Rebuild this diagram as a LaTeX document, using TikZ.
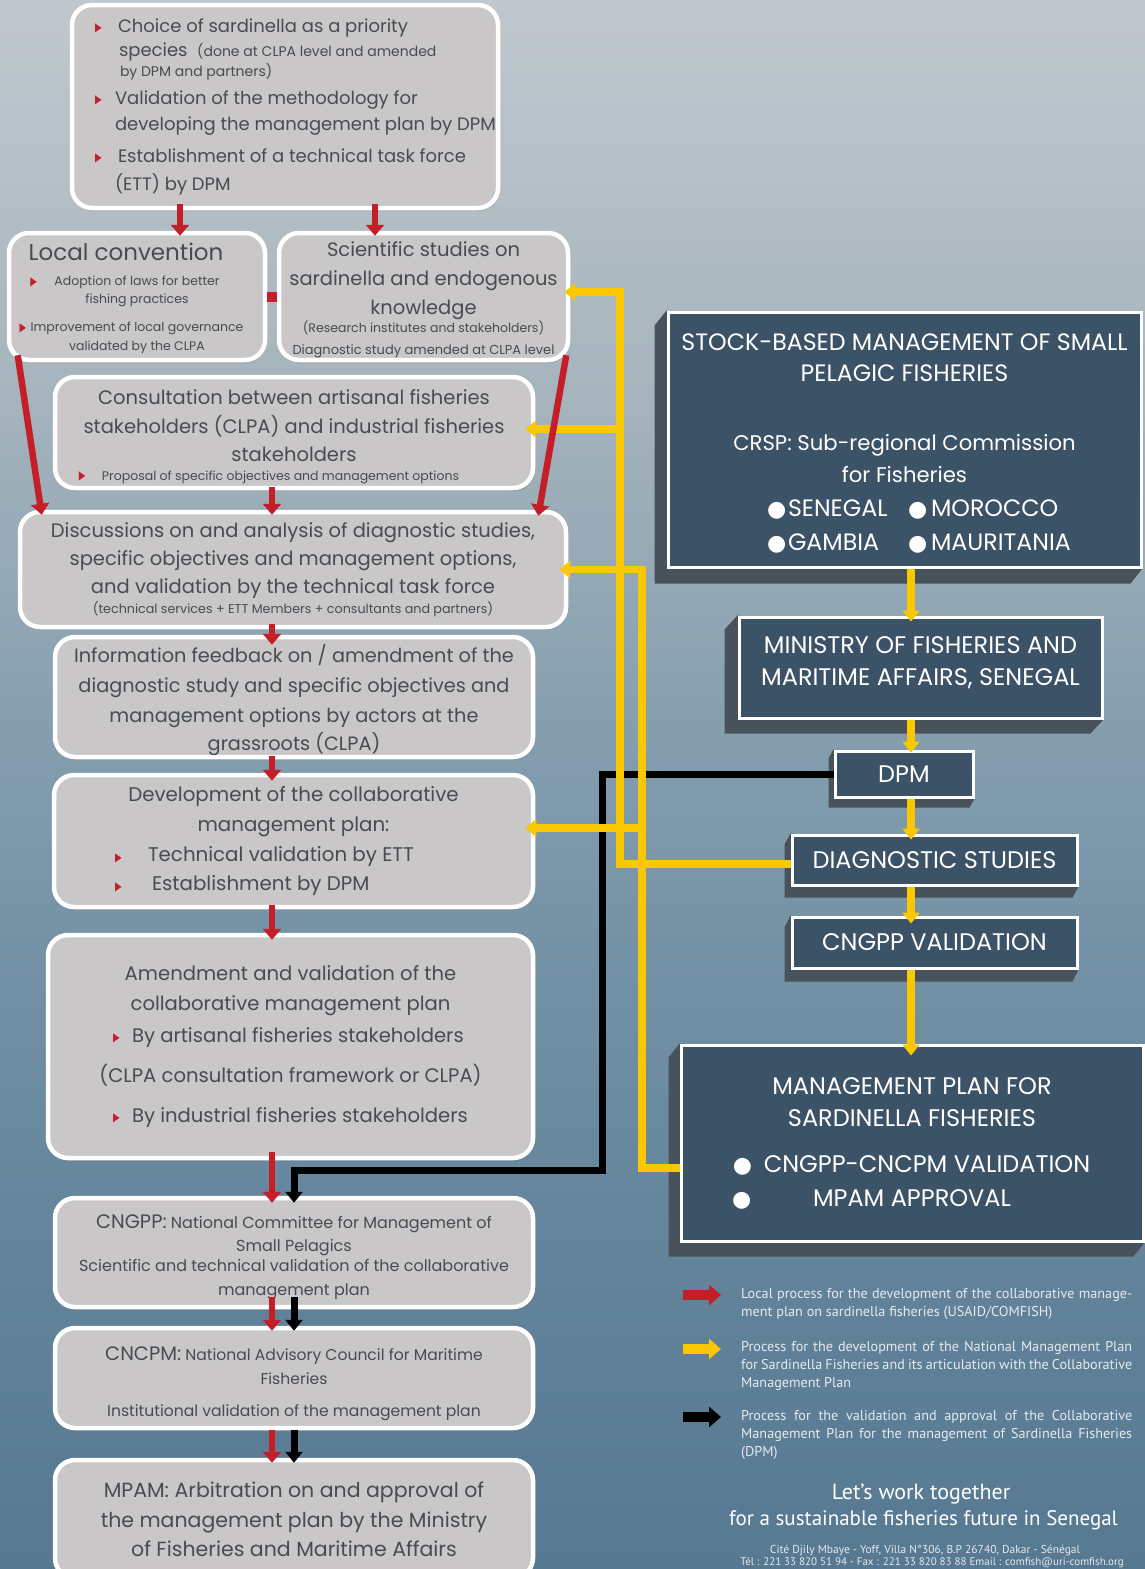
\documentclass[tikz,border=0pt]{standalone}
\usepackage{fontspec}
\setmainfont{Poppins}
\newfontfamily\legfont{PT Sans}
\newfontfamily\djv{DejaVu Sans}
\usetikzlibrary{arrows.meta,calc,shadows}
\definecolor{boxgray}{RGB}{201,199,200}
\definecolor{txt}{RGB}{70,76,82}
\definecolor{bred}{RGB}{196,30,40}
\definecolor{yel}{RGB}{250,200,0}
\definecolor{navy}{RGB}{60,82,102}
\definecolor{shade3d}{RGB}{72,82,90}
\definecolor{legtxt}{RGB}{230,234,238}
\definecolor{bgA}{RGB}{192,200,205}
\definecolor{bgB}{RGB}{166,180,189}
\definecolor{bgC}{RGB}{128,155,172}
\definecolor{bgD}{RGB}{102,135,157}
\definecolor{bgE}{RGB}{86,120,145}
\newcommand\fsz[2]{\fontsize{#1}{#2}\selectfont}
\newcommand\bul{\makebox[0pt][l]{\raisebox{0.5pt}{\djv\fsz{12}{12}\color{bred}\scalebox{0.72}[1]{▶}}}}
\newcommand\wbul{\makebox[0pt][l]{\raisebox{0pt}{\djv\fsz{22}{22}\color{white}●}}}
\newcommand\dsh[3]{\fill[shade3d] (#1.north west) -- ++(-#2,#3) -- ($(#1.south west)+(-#2,#3)$) -- ($(#1.south east)+(-#2,#3)$) -- (#1.south east) -- cycle;}
\pgfdeclarelayer{bglayer}
\pgfsetlayers{bglayer,main}
\pgfdeclareverticalshading{bgsh}{100bp}{color(0bp)=(bgE); color(25bp)=(bgE); color(37.5bp)=(bgD); color(50bp)=(bgC); color(62.5bp)=(bgB); color(75bp)=(bgA); color(100bp)=(bgA)}
\begin{document}
\begin{tikzpicture}[x=1pt,y=-1pt,
  lbox/.style={draw=white, line width=4.5pt, fill=boxgray, rounded corners=20pt, text=txt, align=center, inner sep=0pt,
     drop shadow={shadow xshift=1pt, shadow yshift=-3pt, opacity=0.35}},
  dbox/.style={draw=white, line width=3pt, fill=navy, text=white, align=center, inner sep=0pt},
  redarr/.style={draw=bred, line width=6.5pt, -{Triangle[width=18pt,length=11pt]}},
  yelarr/.style={draw=yel, line width=7.5pt, -{Triangle[width=17pt,length=11pt]}},
  blkarr/.style={draw=black, line width=7pt, -{Triangle[width=17pt,length=11pt]}},
  legtext/.style={text=legtxt, align=left, inner sep=0pt, anchor=west, font=\legfont\fsz{14.2}{17.8}},
  legarrow/.style={line width=10pt, -{Triangle[width=20pt,length=12pt]}}
]
\useasboundingbox (0,0) rectangle (1145,1569);
\begin{pgfonlayer}{bglayer}
\shade[shading=bgsh] (0,0) rectangle (1145,1569);
\end{pgfonlayer}
\clip (0,0) rectangle (1145,1569);

% helper coordinates
\coordinate (rx) at (272,0);
\coordinate (bx) at (294,0);
\coordinate (t1x) at (180,0);
\coordinate (t2x) at (375,0);
\coordinate (ax) at (911,0);
\coordinate (y1x) at (620,0);
\coordinate (y2x) at (642,0);
\coordinate (kx) at (602,0);
\coordinate (yt) at (0,292);
\coordinate (yc) at (0,429);
\coordinate (yd) at (0,828);
\coordinate (yb) at (0,1168);
\coordinate (ky) at (0,1170);

% ---------- left column ----------
\node[lbox, minimum width=426pt, minimum height=203pt, font=\fsz{18}{26}] (top) at (285,106.5) {%
\makebox[380pt][l]{\bul\hspace*{23pt}Choice of sardinella as a priority}\\[-2pt]
\makebox[380pt][l]{\hspace*{24pt}species\ \ {\fsz{14}{26}(done at CLPA level and amended}}\\[-6pt]
\makebox[380pt][l]{\hspace*{25pt}{\fsz{14}{26}by DPM and partners)}}\\[2pt]
\makebox[380pt][l]{\bul\hspace*{20pt}Validation of the methodology for}\\
\makebox[380pt][l]{\hspace*{20pt}developing the management plan by DPM}\\[6pt]
\makebox[380pt][l]{\bul\hspace*{23pt}Establishment of a technical task force}\\[2pt]
\makebox[380pt][l]{\hspace*{20pt}(ETT) by DPM}};

\node[lbox, minimum width=256pt, minimum height=127pt, font=\fsz{12.5}{18}] (loc) at (137,296.5) {%
{\fsz{23}{18}\rule{0pt}{22pt}Local convention\hspace*{22pt}}\\[7pt]
\llap{\bul\hspace*{24pt}}Adoption of laws for better\\
fishing practices\\[10pt]
\llap{\bul\hspace*{11pt}}Improvement of local governance\\[1pt]
validated by the CLPA};

\node[lbox, minimum width=289pt, minimum height=127pt, font=\fsz{19.5}{29}] (sci) at (423.5,296.5) {%
\rule{0pt}{21pt}Scientific studies on\\
sardinella and endogenous\\
knowledge\\[-11pt]
{\fsz{12.5}{29}(Research institutes and stakeholders)}\\[-7pt]
{\fsz{13}{29}Diagnostic study amended at CLPA level}};

\node[lbox, minimum width=478pt, minimum height=111pt, font=\fsz{19.5}{29}] (cons) at (294,432.5) {%
\rule{0pt}{23pt}Consultation between artisanal fisheries\\
stakeholders (CLPA) and industrial fisheries\\[-1pt]
stakeholders\\[-10pt]
{\fsz{12.5}{29}\bul\hspace*{23pt}Proposal of specific objectives and management options\hspace*{50pt}}};

\node[lbox, minimum width=546pt, minimum height=115pt, font=\fsz{19.5}{29}] (disc) at (293,569.5) {%
Discussions on and analysis of diagnostic studies,\\[-1pt]
specific objectives and management options,\\[-1pt]
and validation by the technical task force\\[-9pt]
{\fsz{12.7}{29}(technical services + ETT Members + consultants and partners)}};

\node[lbox, minimum width=478pt, minimum height=120pt, font=\fsz{19.3}{29}] (info) at (294,697) {%
\rule{0pt}{25pt}Information feedback on / amendment of the\\[1pt]
diagnostic study and specific objectives and\\[1pt]
management options by actors at the\\[-1pt]
grassroots (CLPA)};

\node[lbox, minimum width=479pt, minimum height=132pt, font=\fsz{19.8}{29}] (dev) at (293.5,841) {%
Development of the collaborative\\[1pt]
management plan:\\[1pt]
\makebox[357pt][l]{\bul\hspace*{33pt}Technical validation by ETT}\\
\makebox[357pt][l]{\bul\hspace*{37pt}Establishment by DPM}};

\node[lbox, minimum width=485pt, minimum height=223pt, font=\fsz{19.6}{30}] (amend) at (290.5,1046.5) {%
Amendment and validation of the\\
collaborative management plan\\[2pt]
\makebox[355pt][l]{\bul\hspace*{19pt}By artisanal fisheries stakeholders}\\[10pt]
(CLPA consultation framework or CLPA)\\[10pt]
\makebox[355pt][l]{\bul\hspace*{19pt}By industrial fisheries stakeholders}};

\node[lbox, minimum width=478pt, minimum height=109pt, font=\fsz{16}{22}] (cngpp) at (294,1252.5) {%
{\fsz{19.5}{22}\rule{0pt}{23pt}CNGPP:} National Committee for Management of\\[0.6pt]
Small Pelagics\\[-2pt]
Scientific and technical validation of the collaborative\\[2pt]
management plan};

\node[lbox, minimum width=478pt, minimum height=100pt, font=\fsz{15.6}{24}] (cncpm) at (294,1378) {%
{\fsz{19.5}{24}\rule{0pt}{26pt}CNCPM:} National Advisory Council for Maritime\\
Fisheries\\[8pt]
Institutional validation of the management plan};

\node[lbox, minimum width=478pt, minimum height=118pt, font=\fsz{20.5}{29}] (mpam) at (294,1519) {%
MPAM: Arbitration on and approval of\\[1pt]
the management plan by the Ministry\\
of Fisheries and Maritime Affairs};

% ---------- right column ----------
\node[dbox, minimum width=473pt, minimum height=255pt, font=\fsz{23.7}{32}] (stock) at (904.5,439.5) {%
\rule{0pt}{25pt}STOCK-BASED MANAGEMENT OF SMALL\\[-1pt]
PELAGIC FISHERIES\\[37pt]
{\fsz{21.2}{32}CRSP: Sub-regional Commission}\\
{\fsz{21.2}{32}for Fisheries}\\[2pt]
\hspace*{16pt}\makebox[141pt][l]{\wbul\hspace*{21pt}SENEGAL}\makebox[150pt][l]{\wbul\hspace*{23pt}MOROCCO}\\[2pt]
\hspace*{16pt}\makebox[141pt][l]{\wbul\hspace*{21pt}GAMBIA}\makebox[150pt][l]{\wbul\hspace*{23pt}MAURITANIA}};

\node[dbox, minimum width=363pt, minimum height=101pt, font=\fsz{24}{32}] (ministry) at (920.5,667.5) {%
MINISTRY OF FISHERIES AND\\
MARITIME AFFAIRS, SENEGAL\rule[-12pt]{0pt}{1pt}};

\node[dbox, minimum width=138pt, minimum height=46pt, font=\fsz{24}{30}] (dpm) at (904,774) {DPM};
\node[dbox, minimum width=285pt, minimum height=50pt, font=\fsz{24}{30}] (diag) at (934.5,860) {DIAGNOSTIC STUDIES};
\node[dbox, minimum width=285pt, minimum height=51pt, font=\fsz{24}{30}] (cval) at (934.5,942.5) {CNGPP VALIDATION};

\node[dbox, minimum width=462pt, minimum height=196pt, font=\fsz{24}{32}] (mgmt) at (912,1143) {%
MANAGEMENT PLAN FOR\\
SARDINELLA FISHERIES\\[14pt]
\hspace*{30pt}\llap{\wbul\hspace*{31pt}}CNGPP-CNCPM VALIDATION\\[2pt]
\llap{\wbul\hspace*{81pt}}MPAM APPROVAL};

\begin{pgfonlayer}{bglayer}
\dsh{stock}{12}{15}
\dsh{ministry}{13}{14}
\dsh{dpm}{5}{9}
\dsh{diag}{6}{11}
\dsh{cval}{6}{12}
\dsh{mgmt}{11}{14}
\end{pgfonlayer}

% ---------- black connector ----------
\draw[blkarr] (dpm.west) -- (kx |- dpm.west) -- (kx |- ky) -- (bx |- ky) -- ($(bx |- cngpp.north)+(0,7)$);
\draw[blkarr] ($(bx |- cngpp.south)+(0,-12)$) -- ($(bx |- cncpm.north)+(0,5)$);
\draw[blkarr] (bx |- cncpm.south) -- ($(bx |- mpam.north)+(0,5)$);

% ---------- yellow connectors ----------
\draw[yelarr] ($(diag.west)+(0,4)$) -- ($(y1x |- diag.west)+(0,4)$) -- (y1x |- yt) -- ($(sci.east |- yt)+(-6,0)$);
\draw[yelarr] (y1x |- yc) -- ($(cons.east |- yc)+(-10,0)$);
\draw[yelarr] (mgmt.west |- yb) -- (y2x |- yb) -- (y2x |- disc.east) -- ($(disc.east)+(-9,0)$);
\draw[yelarr] (y2x |- yd) -- ($(dev.east |- yd)+(-10,0)$);
\draw[yelarr] (ax |- stock.south) -- ($(ax |- ministry.north)+(0,6)$);
\draw[yelarr] (ax |- ministry.south) -- ($(ax |- dpm.north)+(0,3)$);
\draw[yelarr] (ax |- dpm.south) -- ($(ax |- diag.north)+(0,6)$);
\draw[yelarr] (ax |- diag.south) -- ($(ax |- cval.north)+(0,8)$);
\draw[yelarr] (ax |- cval.south) -- ($(ax |- mgmt.north)+(0,12)$);

% ---------- red connectors ----------
\draw[draw=bred, line width=10pt] (loc.east) -- (sci.west);
\draw[redarr] ($(t1x |- top.south)+(0,-6)$) -- ($(t1x |- loc.north)+(0,5)$);
\draw[redarr] ($(t2x |- top.south)+(0,-6)$) -- ($(t2x |- sci.north)+(0,5)$);
\draw[redarr] ($(loc.south west)+(11,-7)$) -- ($(disc.north west)+(24,5)$);
\draw[redarr] ($(sci.south east)+(-4,-7)$) -- ($(disc.north east)+(-30,6)$);
\draw[redarr] ($(rx |- cons.south)+(0,-3)$) -- ($(rx |- disc.north)+(0,5)$);
\draw[redarr] ($(rx |- disc.south)+(0,-5)$) -- ($(rx |- info.north)+(0,10)$);
\draw[redarr] ($(rx |- info.south)+(0,-3)$) -- ($(rx |- dev.north)+(0,8)$);
\draw[redarr] ($(rx |- dev.south)+(0,-4)$) -- ($(rx |- amend.north)+(0,7)$);
\draw[redarr] ($(rx |- amend.south)+(0,-8)$) -- ($(rx |- cngpp.north)+(0,7)$);
\draw[redarr] ($(rx |- cngpp.south)+(0,-12)$) -- ($(rx |- cncpm.north)+(0,5)$);
\draw[redarr] (rx |- cncpm.south) -- ($(rx |- mpam.north)+(0,5)$);

% ---------- legend ----------
\coordinate (lr1) at (683,1295); \coordinate (lr2) at (721,1295);
\coordinate (ly1) at (683,1349); \coordinate (ly2) at (721,1349);
\coordinate (lk1) at (683,1417); \coordinate (lk2) at (721,1417);
\draw[legarrow, draw=bred] (lr1) -- (lr2);
\draw[legarrow, draw=yel] (ly1) -- (ly2);
\draw[legarrow, draw=black] (lk1) -- (lk2);
\node[legtext] (lrt) at (741,1304) {%
\makebox[391pt][s]{Local process for the development of the collaborative manage-}\\
ment plan on sardinella fisheries (USAID/COMFISH)};
\node[legtext] (lyt) at (741,1366) {%
\makebox[391pt][s]{Process for the development of the National Management Plan}\\
\makebox[391pt][s]{for Sardinella Fisheries and its articulation with the Collaborative}\\
Management Plan};
\node[legtext] (lkt) at (741,1435) {%
\makebox[391pt][s]{Process for the validation and approval of the Collaborative}\\
\makebox[391pt][s]{Management Plan for the management of Sardinella Fisheries}\\
(DPM)};

\node[text=white, font=\legfont\fsz{22}{24}, inner sep=0pt] (tag1) at (921,1494) {Let’s work together};
\node[text=white, font=\legfont\fsz{21}{24}, inner sep=0pt] (tag2) at (923.5,1520) {for a sustainable fisheries future in Senegal};
\node[text=legtxt, font=\legfont\fsz{11.5}{12}, inner sep=0pt] (addr) at (925,1551) {Cité Djily Mbaye - Yoff, Villa N°306, B.P 26740, Dakar - Sénégal};
\node[text=legtxt, font=\legfont\fsz{11}{12}, inner sep=0pt] (tel) at (932,1562.5) {Tél : 221 33 820 51 94 - Fax : 221 33 820 83 88 Email : comfish@uri-comfish.org};
\end{tikzpicture}
\end{document}
